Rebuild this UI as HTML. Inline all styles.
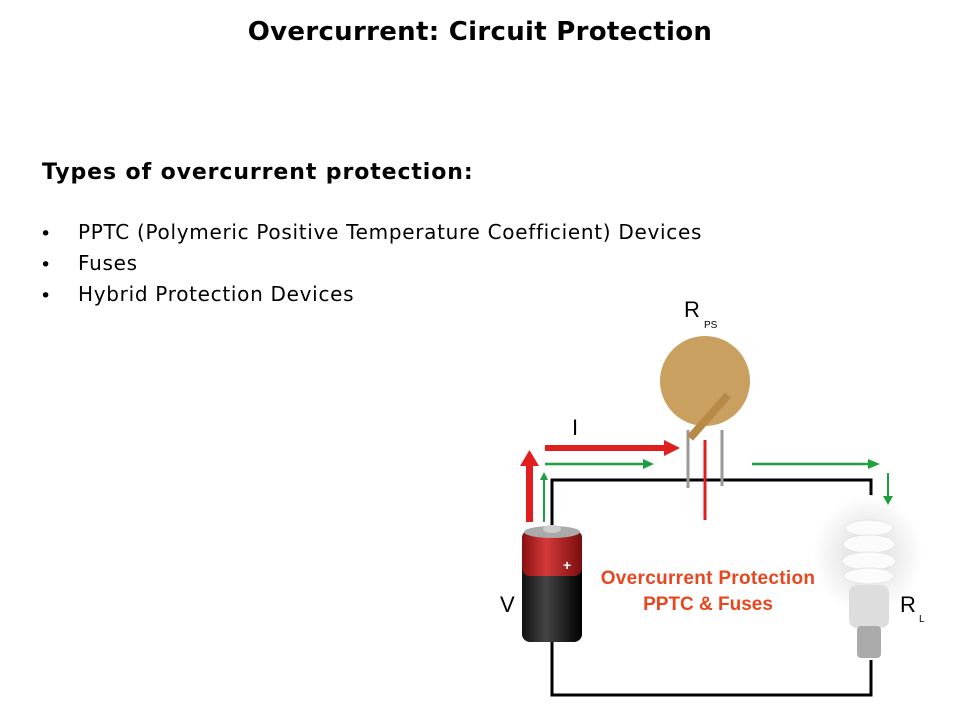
<!DOCTYPE html>
<html><head><style>
body{margin:0;width:960px;height:720px;background:#fff;position:relative;overflow:hidden;font-family:"DejaVu Sans","Liberation Sans",sans-serif;}
.t{position:absolute;white-space:nowrap;color:#000}
.b{font-size:20px;letter-spacing:0.7px}
</style></head><body>
<div class="t" style="left:0;width:960px;text-align:center;top:17px;font-size:26px;font-weight:bold;letter-spacing:0.3px">Overcurrent: Circuit Protection</div>
<div class="t" style="left:42px;top:160px;font-size:22px;font-weight:bold;letter-spacing:0.9px">Types of overcurrent protection:</div>
<div class="t" style="left:40px;top:223px;font-size:19px">•</div>
<div class="t b" style="left:78px;top:220px">PPTC (Polymeric Positive Temperature Coefficient) Devices</div>
<div class="t" style="left:40px;top:254px;font-size:19px">•</div>
<div class="t b" style="left:78px;top:251px">Fuses</div>
<div class="t" style="left:40px;top:285px;font-size:19px">•</div>
<div class="t b" style="left:78px;top:282px">Hybrid Protection Devices</div>
<svg width="960" height="720" style="position:absolute;left:0;top:0" font-family="Liberation Sans, sans-serif">
<defs>
<radialGradient id="glow"><stop offset="0.4" stop-color="#e8e8e8"/><stop offset="1" stop-color="#fff"/></radialGradient>
<linearGradient id="bat" x1="0" x2="1"><stop offset="0" stop-color="#111"/><stop offset="0.4" stop-color="#444"/><stop offset="1" stop-color="#000"/></linearGradient>
<linearGradient id="batr" x1="0" x2="1"><stop offset="0" stop-color="#8a1010"/><stop offset="0.4" stop-color="#d43a3a"/><stop offset="1" stop-color="#7a0d0d"/></linearGradient>
</defs>
<polyline points="552,525 552,480 871,480 871,505" fill="none" stroke="#000" stroke-width="3"/>
<polyline points="552,640 552,695 871,695 871,660" fill="none" stroke="#000" stroke-width="3"/>
<line x1="688" y1="430" x2="688" y2="488" stroke="#999" stroke-width="3"/>
<line x1="722" y1="430" x2="722" y2="486" stroke="#999" stroke-width="3"/>
<circle cx="705" cy="381" r="45" fill="#c9a060"/>
<path d="M690 438 L728 395" stroke="#b88a48" stroke-width="8" fill="none"/>
<line x1="705" y1="440" x2="705" y2="520" stroke="#e02020" stroke-width="3"/>
<rect x="522" y="530" width="60" height="112" rx="8" fill="url(#bat)"/>
<rect x="522" y="530" width="60" height="46" rx="8" fill="url(#batr)"/>
<ellipse cx="552" cy="532" rx="28" ry="6" fill="#aaa"/>
<ellipse cx="552" cy="529" rx="9" ry="4" fill="#ccc"/>
<text x="563" y="570" fill="#fff" font-size="14" font-weight="bold">+</text>
<ellipse cx="868" cy="555" rx="55" ry="60" fill="url(#glow)"/>
<g fill="#fbfbfb" stroke="#e4e4e4" stroke-width="1">
<ellipse cx="869" cy="528" rx="24" ry="8"/><ellipse cx="869" cy="544" rx="26" ry="9"/><ellipse cx="869" cy="561" rx="27" ry="9"/><ellipse cx="869" cy="576" rx="25" ry="8"/>
</g>
<rect x="849" y="585" width="40" height="43" rx="8" fill="#ddd"/>
<rect x="857" y="626" width="24" height="32" rx="4" fill="#aaa"/>
<g fill="#e01e1e">
<rect x="526" y="465" width="7" height="57"/><polygon points="520,466 539,466 529.5,450"/>
<rect x="545" y="445" width="120" height="6"/><polygon points="664,440 680,448 664,456"/>
</g>
<g fill="#1fa040" stroke="#1fa040">
<line x1="544" y1="522" x2="544" y2="478" stroke-width="2"/><polygon points="540,480 548,480 544,472" stroke="none"/>
<line x1="545" y1="464" x2="645" y2="464" stroke-width="2.5"/><polygon points="643,459 654,464 643,469" stroke="none"/>
<line x1="752" y1="464" x2="870" y2="464" stroke-width="2.5"/><polygon points="868,459 880,464 868,469" stroke="none"/>
<line x1="888" y1="473" x2="888" y2="497" stroke-width="2"/><polygon points="883,496 893,496 888,505" stroke="none"/>
</g>
<text x="684" y="317" font-size="22">R</text><text x="704" y="328" font-size="10">PS</text>
<text x="572" y="435" font-size="22">I</text>
<text x="500" y="612" font-size="22">V</text>
<text x="900" y="612" font-size="22">R</text><text x="919" y="622" font-size="10">L</text>
<text x="708" y="584" font-size="19" font-weight="bold" fill="#e8461e" text-anchor="middle" letter-spacing="0.3">Overcurrent Protection</text>
<text x="708" y="610" font-size="19" font-weight="bold" fill="#e8461e" text-anchor="middle">PPTC &amp; Fuses</text>
</svg>
</body></html>
